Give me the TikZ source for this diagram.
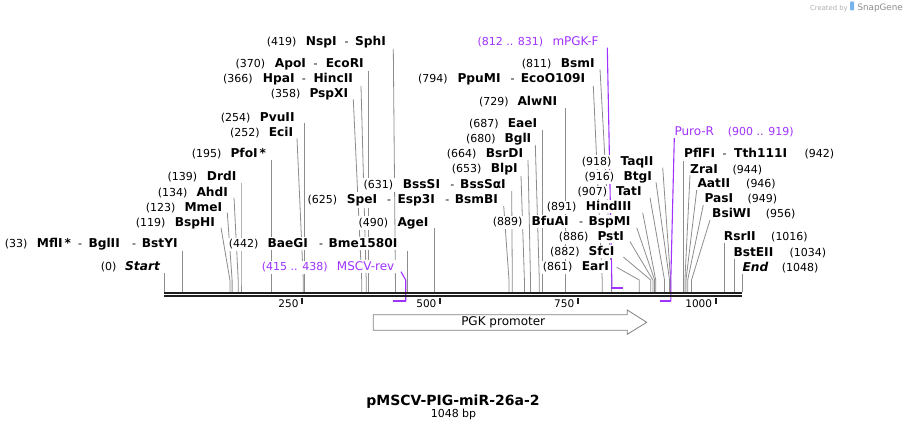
\documentclass[tikz,border=0pt]{standalone}
\usepackage{fontspec}
\setmainfont{DejaVu Sans}
\usetikzlibrary{backgrounds}
\definecolor{prim}{RGB}{160,50,255}
\definecolor{cutc}{RGB}{140,140,140}
\definecolor{bbc}{RGB}{30,30,30}
\definecolor{wmc}{RGB}{175,175,175}
\definecolor{wmblue}{RGB}{120,180,235}
\newcommand\mksite[4]{%
  \coordinate (t#1) at (#2,#3);
  \coordinate (k#1) at (#4,280);
  \coordinate (s#1) at (#4,292);
  \begin{pgfonlayer}{background}
  \draw[cutln] (t#1) -- (k#1) -- (s#1);
  \end{pgfonlayer}}
\begin{document}
\begin{tikzpicture}[x=1pt,y=-1pt,
  lbl/.style={fill=white, inner xsep=1.5pt, inner ysep=2pt},
  num/.style={lbl, font=\fontsize{11}{13}\selectfont, anchor=base west, xshift=-1.5pt},
  enz/.style={lbl, font=\fontsize{12.2}{14}\selectfont\bfseries, anchor=base west, xshift=-1.5pt},
  enzi/.style={lbl, font=\fontsize{12.2}{14}\selectfont\bfseries\itshape, anchor=base west, xshift=-1.5pt},
  dsh/.style={lbl, font=\fontsize{11}{13}\selectfont, anchor=base, inner xsep=3pt},
  prm/.style={lbl, font=\fontsize{12}{14}\selectfont, anchor=base west, xshift=-1.5pt, text=prim},
  prn/.style={lbl, font=\fontsize{11}{13}\selectfont, anchor=base west, xshift=-1.5pt, text=prim},
  cutln/.style={draw=cutc, line width=0.8pt},
  pline/.style={draw=prim, line width=1.1pt},
  pbar/.style={draw=prim, line width=2pt},
  backbone/.style={draw=bbc, line width=1.7pt},
  tickmark/.style={draw=bbc, line width=1.5pt},
  ticklbl/.style={font=\fontsize{10.5}{12}\selectfont, inner sep=0pt, anchor=base east},
  feat/.style={draw=gray, fill=white, line width=0.8pt},
]
\useasboundingbox (0,0) rectangle (907,430);

% watermark
\node[font=\fontsize{6.8}{8}\selectfont, text=wmc, inner sep=0pt, anchor=base west] (wm1) at (810,10.5) {Created by};
\fill[wmblue, rounded corners=1pt] (850,1.5) rectangle (854,10.5);
\node[font=\fontsize{8.8}{10}\selectfont, text=wmc!80!black, inner sep=0pt, anchor=base west] (wm2) at (857.3,10.5) {SnapGene};

% backbone
\coordinate (bbL1) at (164.3,293);
\coordinate (bbR1) at (742.3,293);
\coordinate (bbL2) at (164.3,296.3);
\coordinate (bbR2) at (742.3,296.3);
\draw[backbone] (bbL1) -- (bbR1);
\draw[backbone] (bbL2) -- (bbR2);

% ticks
\foreach \p/\x in {250/302.2,500/440.1,750/577.9,1000/715.8}{
  \draw[tickmark] (\x,297.5) -- (\x,304);
  \node[ticklbl] (tk\p) at (\x-3.5,307.5) {\p};
}

% left labels
\node[num] (n0) at (100.7,271) {(0)};
\node[enzi] (e0) at (125,271) {Start};
\mksite{0}{164.3}{272.7}{164.3}

\node[num] (n33) at (4.7,248) {(33)};
\node[enz] (e33a) at (36.7,248) {MflI\kern2pt*};
\node[dsh] (d33a) at (80.2,248) {-};
\node[enz] (e33b) at (88.3,248) {BglII};
\node[dsh] (d33b) at (134.2,248) {-};
\node[enz] (e33c) at (141.7,248) {BstYI};
\mksite{33}{182.4}{251}{182.4}

\node[num] (n119) at (135.7,226.5) {(119)};
\node[enz] (e119) at (174.7,226.5) {BspHI};
\mksite{119}{221}{227.7}{229.9}

\node[num] (n123) at (145.7,211.5) {(123)};
\node[enz] (e123) at (184.3,211.5) {MmeI};
\mksite{123}{227.3}{212.7}{232.1}

\node[num] (n134) at (157.7,196.5) {(134)};
\node[enz] (e134) at (196.3,196.5) {AhdI};
\mksite{134}{234}{197.7}{238.2}

\node[num] (n139) at (167.3,181) {(139)};
\node[enz] (e139) at (206.7,181) {DrdI};
\mksite{139}{241}{183.3}{241}

\node[num] (n195) at (191.7,158) {(195)};
\node[enz] (e195) at (230.3,158) {PfoI\kern2pt*};
\mksite{195}{271.7}{160}{271.7}

\node[num] (n252) at (230,136.5) {(252)};
\node[enz] (e252) at (268.7,136.5) {EciI};
\mksite{252}{297}{138.3}{303.3}

\node[num] (n254) at (220.7,121.5) {(254)};
\node[enz] (e254) at (259.7,121.5) {PvuII};
\mksite{254}{304.4}{123.3}{304.4}

\node[num] (n358) at (270.7,97.5) {(358)};
\node[enz] (e358) at (309.3,97.5) {PspXI};
\mksite{358}{353.3}{99.3}{361.7}

\node[num] (n366) at (223,82.7) {(366)};
\node[enz] (e366a) at (262.7,82.7) {HpaI};
\node[dsh] (d366) at (303.8,82.7) {-};
\node[enz] (e366b) at (313.3,82.7) {HincII};
\mksite{366}{361}{86}{366.2}

\node[num] (n370) at (235.3,67.5) {(370)};
\node[enz] (e370a) at (274.7,67.5) {ApoI};
\node[dsh] (d370) at (315.7,67.5) {-};
\node[enz] (e370b) at (325.7,67.5) {EcoRI};
\mksite{370}{368.4}{71}{368.4}

\node[num] (n419) at (266.7,46) {(419)};
\node[enz] (e419a) at (305.7,46) {NspI};
\node[dsh] (d419) at (346.5,46) {-};
\node[enz] (e419b) at (355,46) {SphI};
\mksite{419}{393.3}{49}{395.4}

\node[num] (n442) at (228.7,248) {(442)};
\node[enz] (e442a) at (267.3,248) {BaeGI};
\node[dsh] (d442) at (321,248) {-};
\node[enz] (e442b) at (328.3,248) {Bme1580I};
\mksite{442}{407.5}{250.7}{407.5}

\node[num] (n490) at (358.3,226.5) {(490)};
\node[enz] (e490) at (397.3,226.5) {AgeI};
\mksite{490}{434.4}{228.3}{434.4}

% MSCV-rev primer
\node[prn] (n415) at (261.7,271) {(415 .. 438)};
\node[prm] (p415) at (336.7,271) {MSCV-rev};
\coordinate (pa415) at (401,271.7);
\coordinate (pb415) at (405.7,280);
\coordinate (pc415) at (405.7,301.3);
\coordinate (pd415) at (392.5,301.3);
\begin{pgfonlayer}{background}
\draw[pline] (pa415) -- (pb415) -- (pc415);
\draw[pbar] (pd415) -- ([xshift=0.5pt]pc415);
\end{pgfonlayer}

% middle labels
\node[num] (n625) at (307.3,203.5) {(625)};
\node[enz] (e625a) at (346.7,203.5) {SpeI};
\node[dsh] (d625a) at (389,203.5) {-};
\node[enz] (e625b) at (397.3,203.5) {Esp3I};
\node[dsh] (d625b) at (447.3,203.5) {-};
\node[enz] (e625c) at (454.7,203.5) {BsmBI};
\mksite{625}{503.7}{206}{509}

\node[num] (n631) at (363.3,188.7) {(631)};
\node[enz] (e631a) at (402.7,188.7) {BssSI};
\node[dsh] (d631) at (452.3,188.7) {-};
\node[enz] (e631b) at (460,188.7) {BssSαI};
\mksite{631}{511.7}{191}{512.3}

\node[num] (n653) at (451.7,173) {(653)};
\node[enz] (e653) at (490.7,173) {BlpI};
\mksite{653}{521}{176}{524.4}

\node[num] (n664) at (446.7,158) {(664)};
\node[enz] (e664) at (485.7,158) {BsrDI};
\mksite{664}{528}{160}{530.5}

\node[num] (n680) at (466,143) {(680)};
\node[enz] (e680) at (504.3,143) {BglI};
\mksite{680}{535.3}{145}{539.3}

\node[num] (n687) at (469,128) {(687)};
\node[enz] (e687) at (507.7,128) {EaeI};
\mksite{687}{542.8}{130}{542.8}

\node[num] (n729) at (479,105.5) {(729)};
\node[enz] (e729) at (517.3,105.5) {AlwNI};
\mksite{729}{565.8}{108.3}{565.8}

\node[num] (n794) at (418,82.7) {(794)};
\node[enz] (e794a) at (457.3,82.7) {PpuMI};
\node[dsh] (d794) at (512.5,82.7) {-};
\node[enz] (e794b) at (520.7,82.7) {EcoO109I};
\mksite{794}{593.3}{86}{602.2}

\node[num] (n811) at (521.7,67.5) {(811)};
\node[enz] (e811) at (560.7,67.5) {BsmI};
\mksite{811}{600}{69.3}{611.6}

% mPGK-F primer
\node[prn] (n812) at (477.3,46) {(812 .. 831)};
\node[prm] (p812) at (552.3,46) {mPGK-F};
\coordinate (pa812) at (607.3,47.7);
\coordinate (pb812) at (611.8,280);
\coordinate (pc812) at (611.8,287.5);
\coordinate (pd812) at (622.6,287.5);
\begin{pgfonlayer}{background}
\draw[pline] (pa812) -- (pb812) -- (pc812);
\draw[pbar] ([xshift=-0.5pt]pc812) -- (pd812);
\end{pgfonlayer}

\node[num] (n889) at (492.7,226) {(889)};
\node[enz] (e889a) at (531.3,226) {BfuAI};
\node[dsh] (d889) at (581,226) {-};
\node[enz] (e889b) at (588.3,226) {BspMI};
\mksite{889}{636.7}{227.7}{654.6}

\node[num] (n861) at (542.7,271) {(861)};
\node[enz] (e861) at (581.7,271) {EarI};
\mksite{861}{616.7}{267.3}{639.2}

\node[num] (n882) at (550,256) {(882)};
\node[enz] (e882) at (588.3,256) {SfcI};
\mksite{882}{623.3}{257}{650.7}

\node[num] (n886) at (558.7,241) {(886)};
\node[enz] (e886) at (597.3,241) {PstI};
\mksite{886}{630}{241.7}{652.9}

\node[num] (n891) at (546.7,211) {(891)};
\node[enz] (e891) at (585.7,211) {HindIII};
\mksite{891}{642.7}{212.7}{655.7}

\node[num] (n907) at (577.3,196) {(907)};
\node[enz] (e907) at (616,196) {TatI};
\mksite{907}{650}{197.7}{664.5}

\node[num] (n916) at (584.3,180.5) {(916)};
\node[enz] (e916) at (623.3,180.5) {BtgI};
\mksite{916}{656}{182.3}{669.5}

\node[num] (n918) at (581.7,165.5) {(918)};
\node[enz] (e918) at (620.3,165.5) {TaqII};
\mksite{918}{662.7}{167.7}{670.6}

% Puro-R primer
\node[prm] (p900) at (674.3,136) {Puro-R};
\node[prn] (n900) at (727.7,136) {(900 .. 919)};
\coordinate (pa900) at (674.3,138);
\coordinate (pb900) at (670.8,280);
\coordinate (pc900) at (670.8,301.3);
\coordinate (pd900) at (659.5,301.3);
\begin{pgfonlayer}{background}
\draw[pline] (pa900) -- (pb900) -- (pc900);
\draw[pbar] (pd900) -- ([xshift=0.5pt]pc900);
\end{pgfonlayer}

% right labels
\node[enz] (e942a) at (684,158) {PflFI};
\node[dsh] (d942) at (724.5,158) {-};
\node[enz] (e942b) at (734,158) {Tth111I};
\node[num] (n942) at (804.3,158) {(942)};
\mksite{942}{683.8}{161}{683.8}

\node[enz] (e944) at (690,173.3) {ZraI};
\node[num] (n944) at (732.3,173.3) {(944)};
\mksite{944}{690}{175}{684.9}

\node[enz] (e946) at (697.3,188) {AatII};
\node[num] (n946) at (746,188) {(946)};
\mksite{946}{696.7}{190}{686}

\node[enz] (e949) at (704.3,203) {PasI};
\node[num] (n949) at (747.3,203) {(949)};
\mksite{949}{703.3}{205}{687.7}

\node[enz] (e956) at (712,218) {BsiWI};
\node[num] (n956) at (765.7,218) {(956)};
\mksite{956}{710}{220}{691.5}

\node[enz] (e1016) at (723.7,241) {RsrII};
\node[num] (n1016) at (771,241) {(1016)};
\mksite{1016}{724.2}{243.3}{724.2}

\node[enz] (e1034) at (733.3,256.5) {BstEII};
\node[num] (n1034) at (789.3,256.5) {(1034)};
\mksite{1034}{734}{258.3}{734}

\node[enzi] (e1048) at (742.3,271.5) {End};
\node[num] (n1048) at (781.7,271.5) {(1048)};
\mksite{1048}{742.3}{273.3}{742.3}

% PGK promoter feature
\draw[feat] (373.3,314.7) -- (627.3,314.7) -- (627.3,310) -- (646.7,322.3)
  -- (627.3,334.3) -- (627.3,330.3) -- (373.3,330.3) -- cycle;
\node[font=\fontsize{12}{14}\selectfont, inner sep=0pt, anchor=base] (pgk) at (503.2,325.7) {PGK promoter};

% title
\node[font=\fontsize{14}{16}\selectfont\bfseries, inner sep=0pt, anchor=base] (title) at (453,405) {pMSCV-PIG-miR-26a-2};
\node[font=\fontsize{11}{13}\selectfont, inner sep=0pt, anchor=base] (bp) at (453.5,417) {1048 bp};
\end{tikzpicture}
\end{document}
